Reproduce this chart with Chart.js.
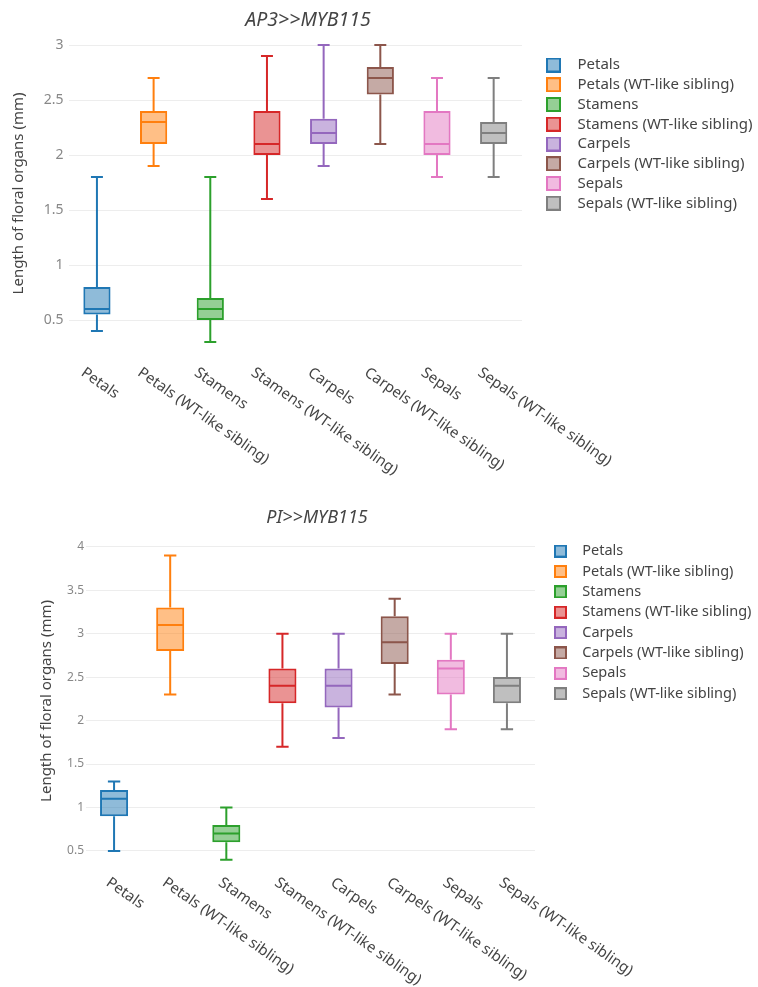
<!DOCTYPE html>
<html>
<head>
<meta charset="utf-8">
<script src="https://cdn.jsdelivr.net/npm/chart.js@4.4.1/dist/chart.umd.min.js"></script>
<style>
  html, body { margin:0; padding:0; background:#fff; }
  .panel { position:relative; width:758px; }
  #top { height:490px; }
  #bottom { height:497px; }
</style>
</head>
<body>
<div class="panel" id="top"><canvas id="c1"></canvas></div>
<div class="panel" id="bottom"><canvas id="c2"></canvas></div>
<script>
// categories + plotly default palette
const categories = ['Petals', 'Petals (WT-like sibling)', 'Stamens', 'Stamens (WT-like sibling)',
  'Carpels', 'Carpels (WT-like sibling)', 'Sepals', 'Sepals (WT-like sibling)'];
const colors = ['#1f77b4', '#ff7f0e', '#2ca02c', '#d62728', '#9467bd', '#8c564b', '#e377c2', '#7f7f7f'];

// AP3>>MYB115 (mm)
const ap3Min = [0.4, 1.9, 0.3, 1.6, 1.9, 2.1, 1.8, 1.8];
const ap3Q1  = [0.55, 2.1, 0.5, 2.0, 2.1, 2.55, 2.0, 2.1];
const ap3Med = [0.6, 2.3, 0.6, 2.1, 2.2, 2.7, 2.1, 2.2];
const ap3Q3  = [0.8, 2.4, 0.7, 2.4, 2.33, 2.8, 2.4, 2.3];
const ap3Max = [1.8, 2.7, 1.8, 2.9, 3.0, 3.0, 2.7, 2.7];
const ap3Ticks = [0.5, 1, 1.5, 2, 2.5, 3];

// PI>>MYB115 (mm)
const piMin = [0.5, 2.3, 0.4, 1.7, 1.8, 2.3, 1.9, 1.9];
const piQ1  = [0.9, 2.8, 0.6, 2.2, 2.15, 2.65, 2.3, 2.2];
const piMed = [1.1, 3.1, 0.7, 2.4, 2.4, 2.9, 2.6, 2.4];
const piQ3  = [1.2, 3.3, 0.8, 2.6, 2.6, 3.2, 2.7, 2.5];
const piMax = [1.3, 3.9, 1.0, 3.0, 3.0, 3.4, 3.0, 3.0];
const piTicks = [0.5, 1, 1.5, 2, 2.5, 3, 3.5, 4];

const FONT = '"Noto Sans", "Open Sans", sans-serif';

function rgba(hex, a){
  const n = parseInt(hex.slice(1), 16);
  return `rgba(${n >> 16},${(n >> 8) & 255},${n & 255},${a})`;
}

// legend swatch: square at the left of a wider canvas so text sits further right
function swatch(col, w, s){
  const c = document.createElement('canvas');
  c.width = w; c.height = s;
  const g = c.getContext('2d');
  g.fillStyle = rgba(col, 0.5);
  g.fillRect(1, 1, s - 2, s - 2);
  g.strokeStyle = col; g.lineWidth = 2;
  g.strokeRect(1, 1, s - 2, s - 2);
  return c;
}

function makeChart(id, p){
  const datasets = categories.map((name, i) => ({
    label: name,
    data: categories.map((_, j) => j === i ? [p.q1[i], p.q3[i]] : null),
    whisker: [p.min[i], p.med[i], p.max[i]],
    icon: swatch(colors[i], p.swW, p.swS),
    backgroundColor: rgba(colors[i], 0.5),
    borderColor: colors[i],
    borderWidth: 2,
    borderSkipped: false,
    grouped: false,
    barPercentage: p.barPct,
    categoryPercentage: 1
  }));

  // medians + whiskers, placed with the y scale
  const whiskers = {
    id: 'whiskers',
    afterDatasetsDraw(chart){
      const {ctx} = chart, y = chart.scales.y;
      chart.data.datasets.forEach((ds, i) => {
        const bar = chart.getDatasetMeta(i).data[i];
        if (!bar) return;
        const {x, width} = bar.getProps(['x', 'width'], true);
        const half = width / 2 - 1, cap = width * 0.22;
        const [mn, md, mx] = ds.whisker.map(v => y.getPixelForValue(v));
        const q1 = y.getPixelForValue(ds.data[i][0]), q3 = y.getPixelForValue(ds.data[i][1]);
        ctx.save();
        ctx.strokeStyle = ds.borderColor; ctx.lineWidth = 2;
        ctx.beginPath();
        ctx.moveTo(x - half, md); ctx.lineTo(x + half, md);
        ctx.moveTo(x, q3); ctx.lineTo(x, mx);
        ctx.moveTo(x - cap, mx); ctx.lineTo(x + cap, mx);
        ctx.moveTo(x, q1); ctx.lineTo(x, mn);
        ctx.moveTo(x - cap, mn); ctx.lineTo(x + cap, mn);
        ctx.stroke();
        ctx.restore();
      });
    }
  };

  // plotly-style slanted category labels + title
  const labels = {
    id: 'labels',
    afterDraw(chart){
      const {ctx, chartArea} = chart, xs = chart.scales.x;
      ctx.save();
      ctx.fillStyle = '#444';
      ctx.font = `${p.xFont}px ${FONT}`;
      ctx.textAlign = 'left'; ctx.textBaseline = 'top';
      categories.forEach((lab, i) => {
        ctx.save();
        ctx.translate(xs.getPixelForValue(i) + p.xdx, chartArea.bottom + p.xdy);
        ctx.rotate(p.xAngle * Math.PI / 180);
        ctx.fillText(lab, 0, 0);
        ctx.restore();
      });
      ctx.font = `italic ${p.titleSize}px ${FONT}`;
      ctx.textAlign = 'center'; ctx.textBaseline = 'middle';
      ctx.fillText(p.title, p.titleX, p.titleY);
      ctx.restore();
    }
  };

  return new Chart(document.getElementById(id), {
    type: 'bar',
    data: { labels: categories, datasets },
    plugins: [whiskers, labels],
    options: {
      responsive: true,
      maintainAspectRatio: false,
      devicePixelRatio: 1,
      animation: false,
      events: [],
      layout: { padding: { top: p.padTop, left: 0, right: 0, bottom: 0 } },
      scales: {
        x: {
          grid: { display: false }, border: { display: false },
          ticks: { display: false },
          afterFit: s => { s.height = p.xAxisH; }
        },
        y: {
          min: p.yMin, max: p.yMax,
          grid: { color: '#ededed', drawTicks: false }, border: { display: false },
          afterBuildTicks: s => { s.ticks = p.ticks.map(v => ({ value: v })); },
          ticks: { padding: p.tickPad, color: '#888', font: { family: FONT, size: p.tickSize }, callback: v => String(v) },
          title: { display: true, text: 'Length of floral organs (mm)', color: '#444',
                   font: { family: FONT, size: 15 }, padding: { top: p.yTitlePad, bottom: 0 } },
          afterFit: s => { s.width = p.axisW; }
        },
        gap: {
          type: 'linear', position: 'right', display: true,
          grid: { display: false }, border: { display: false }, ticks: { display: false },
          afterFit: s => { s.width = p.gapW; }
        }
      },
      plugins: {
        tooltip: { enabled: false },
        legend: {
          position: 'right', align: 'start', maxWidth: p.legendMaxW,
          title: { display: p.legendTitleH > 0, text: '', font: { size: 1, lineHeight: 1 },
                   padding: { top: Math.max(p.legendTitleH - 1, 0), bottom: 0 } },
          labels: {
            usePointStyle: true, pointStyleWidth: p.swW,
            padding: p.legendPad, color: '#444',
            font: { family: FONT, size: p.legendSize },
            generateLabels: chart => chart.data.datasets.map((d, i) => ({
              text: d.label, pointStyle: d.icon, fillStyle: d.backgroundColor,
              strokeStyle: d.borderColor, lineWidth: 0, hidden: false, datasetIndex: i, fontColor: '#444'
            }))
          }
        }
      }
    }
  });
}

makeChart('c1', {
  min: ap3Min, q1: ap3Q1, med: ap3Med, q3: ap3Q3, max: ap3Max, ticks: ap3Ticks,
  yMin: 0.2, yMax: 3.1, padTop: 34, axisW: 68.6, xAxisH: 137, gapW: 19.25,
  tickSize: 14, tickPad: 5, yTitlePad: 10, barPct: 0.48,
  legendMaxW: 216.75, legendPad: 4.75, legendSize: 15, legendTitleH: 18.75, swW: 24, swS: 15,
  xFont: 15, xdx: -10, xdy: 12, xAngle: 35,
  title: 'AP3>>MYB115', titleSize: 19.5, titleX: 308, titleY: 20
});

makeChart('c2', {
  min: piMin, q1: piQ1, med: piMed, q3: piQ3, max: piMax, ticks: piTicks,
  yMin: 0.35, yMax: 4.1, padTop: 48, axisW: 86, xAxisH: 123, gapW: 13.1,
  tickSize: 12, tickPad: 2, yTitlePad: 38, barPct: 0.5,
  legendMaxW: 209.9, legendPad: 5.87, legendSize: 14.5, legendTitleH: 0, swW: 21, swS: 13,
  xFont: 15, xdx: -2, xdy: 11, xAngle: 35,
  title: 'PI>>MYB115', titleSize: 18, titleX: 317, titleY: 28
});
</script>
</body>
</html>
